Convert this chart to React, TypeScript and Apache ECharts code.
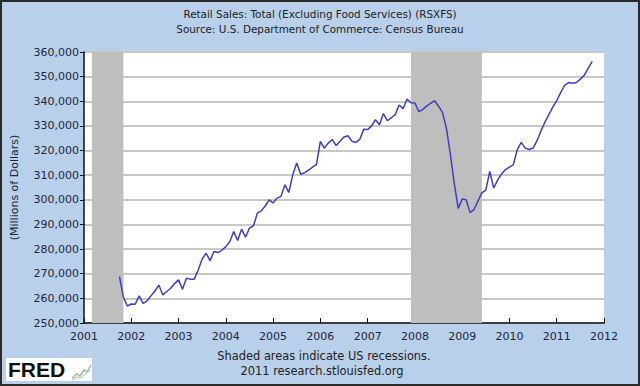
import React, { useEffect, useRef } from "react";
import * as echarts from "echarts";

// Monthly retail sales excluding food services, millions of dollars, Oct 2001 – Oct 2011
const startYear = 2001;
const startMonth = 10;
const retailSales = [
  // 2001 Oct–Dec
  268800, 260500, 256900,
  // 2002
  257700, 257600, 261000, 258000, 259000, 261000, 263000, 265400, 261400, 262800, 264100, 266000,
  // 2003
  267500, 263700, 268200, 267800, 267800, 271500, 276000, 278300, 275300, 279000, 278600, 279500,
  // 2004
  281000, 283000, 287100, 283500, 288100, 284800, 288500, 289400, 294600, 295500, 297500, 300000,
  // 2005
  298700, 300700, 301400, 306100, 303000, 310200, 314900, 310400, 311000, 312000, 313300, 314300,
  // 2006
  323700, 321000, 323000, 324500, 322000, 323800, 325500, 326000, 323800, 323300, 324500, 328600,
  // 2007
  328500, 330000, 332500, 330500, 335000, 332100, 333300, 334600, 338500, 337000, 340900, 339400,
  // 2008
  339300, 335800, 336700, 338000, 339200, 340200, 338000, 335500, 329000, 318500, 306500, 296500,
  // 2009
  300300, 300000, 294800, 296000, 299500, 302800, 303900, 311500, 304800, 308000, 310500, 312300,
  // 2010
  313300, 314300, 320500, 323300, 321000, 320400, 321000, 324000, 328000, 331500, 334600, 337600,
  // 2011 Jan–Oct
  340300, 343500, 346500, 347600, 347300, 347600, 349000, 350600, 353500, 356200,
];

// Recessions as [start, end] in fractional years
const recessionStarts = [2001 + 2 / 12, 2007 + 11 / 12];
const recessionEnds = [2001 + 10 / 12, 2009 + 5 / 12];

const xMin = 2001;
const xMax = 2012;
const yMin = 250000;
const yMax = 360000;
const yStep = 10000;

const titleLines = [
  "Retail Sales: Total (Excluding Food Services) (RSXFS)",
  "Source: U.S. Department of Commerce: Census Bureau",
];
const footerLines = ["Shaded areas indicate US recessions.", "2011 research.stlouisfed.org"];
const yAxisTitle = "(Millions of Dollars)";

const FONT = "DejaVu Sans";

export default function App() {
  const ref = useRef<HTMLDivElement>(null);

  useEffect(() => {
    if (!ref.current) return;
    const chart = echarts.init(ref.current, null, { renderer: "svg" });

    const points = retailSales.map((v, i) => [startYear + (startMonth - 1 + i) / 12, v]);
    const bands = recessionStarts.map((s, i) => [
      { xAxis: s },
      { xAxis: recessionEnds[i] },
    ]);

    chart.setOption({
      animation: false,
      backgroundColor: "#b8d0ea",
      textStyle: { fontFamily: FONT },
      grid: { left: 84, right: 36, top: 52, bottom: 63, backgroundColor: "#ffffff", show: true, borderWidth: 0 },
      xAxis: {
        type: "value",
        min: xMin,
        max: xMax,
        interval: 1,
        axisLine: { show: true, lineStyle: { color: "#111", width: 1.5 } },
        axisTick: { show: true, inside: true, length: 5, lineStyle: { color: "#111" } },
        axisLabel: {
          color: "#1c2640",
          fontSize: 11,
          fontFamily: FONT,
          margin: 8,
          formatter: (v: number) => String(v),
        },
        splitLine: { show: false },
      },
      yAxis: {
        type: "value",
        min: yMin,
        max: yMax,
        interval: yStep,
        name: yAxisTitle,
        nameLocation: "middle",
        nameGap: 64,
        nameTextStyle: { color: "#1c2640", fontSize: 11, fontFamily: FONT },
        axisLine: { show: true, lineStyle: { color: "#111", width: 1.5 } },
        axisTick: { show: true, inside: false, length: 4, lineStyle: { color: "#111" } },
        axisLabel: {
          color: "#1c2640",
          fontSize: 11,
          fontFamily: FONT,
          margin: 5,
          formatter: (v: number) => v.toLocaleString("en-US"),
        },
        splitLine: { show: true, lineStyle: { color: "#c8c8c8", width: 2 } },
      },
      series: [
        {
          type: "line",
          data: points,
          showSymbol: false,
          lineStyle: { color: "#3f3fc0", width: 1.5 },
          z: 3,
          markArea: {
            silent: true,
            itemStyle: { color: "#bebebe" },
            data: bands,
          },
        },
      ],
      graphic: [
        {
          type: "text",
          left: "center",
          top: 9,
          style: { text: titleLines[0], fill: "#222", font: `10.4px "${FONT}"` },
        },
        {
          type: "text",
          left: "center",
          top: 24,
          style: { text: titleLines[1], fill: "#222", font: `10.4px "${FONT}"` },
        },
        {
          type: "text",
          x: 324,
          y: 350,
          style: { text: footerLines[0], fill: "#222", font: `11.4px "${FONT}"`, align: "center" },
        },
        {
          type: "text",
          x: 322,
          y: 365,
          style: { text: footerLines[1], fill: "#222", font: `11.4px "${FONT}"`, align: "center" },
        },
        {
          type: "group",
          children: [
            { type: "rect", shape: { x: 6, y: 358, width: 86, height: 23 }, style: { fill: "#ffffff" } },
            {
              type: "text",
              x: 8,
              y: 359,
              style: { text: "FRED", fill: "#111", font: `bold 21px "Liberation Sans"` },
            },
            {
              type: "polyline",
              shape: { points: [[72, 378], [77, 374], [80, 376], [84, 370], [87, 372], [91, 365]] },
              style: { stroke: "#9fb59a", lineWidth: 1.5, fill: "none" },
            },
            {
              type: "polyline",
              shape: { points: [[72, 380], [77, 377], [81, 378], [85, 374], [91, 370]] },
              style: { stroke: "#c9d3c4", lineWidth: 1.5, fill: "none" },
            },
          ],
        },
        {
          type: "rect",
          shape: { x: 1, y: 1, width: 638, height: 384 },
          style: { fill: "none", stroke: "#2b2b2b", lineWidth: 2 },
        },
      ],
    });

    return () => chart.dispose();
  }, []);

  return (
    <div
      ref={ref}
      style={{ position: "fixed", left: 0, top: 0, width: 640, height: 386 }}
    />
  );
}
